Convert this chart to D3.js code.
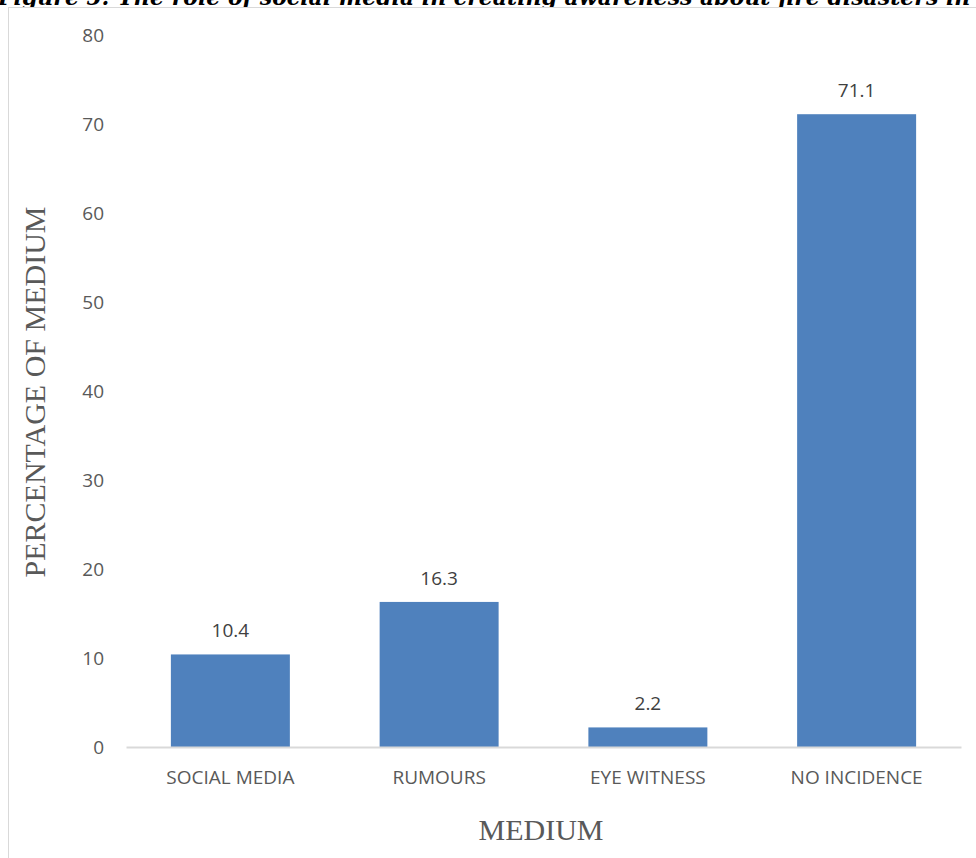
<!DOCTYPE html>
<html>
<head>
<meta charset="utf-8">
<script src="https://cdn.jsdelivr.net/npm/d3@7"></script>
<style>
  html, body { margin: 0; padding: 0; background: #fff; overflow: hidden; }
  svg { display: block; }
</style>
</head>
<body>
<script>
const categories = ["SOCIAL MEDIA", "RUMOURS", "EYE WITNESS", "NO INCIDENCE"];
const values = [10.4, 16.3, 2.2, 71.1];
const yTicks = [0, 10, 20, 30, 40, 50, 60, 70, 80];
const titleText = "Figure 5: The role of social media in creating awareness about fire disasters in";
const xAxisTitle = "MEDIUM";
const yAxisTitle = "PERCENTAGE OF MEDIUM";

const W = 976, H = 858;
const svg = d3.select("body").append("svg").attr("width", W).attr("height", H);

// clipped figure caption at the very top
svg.append("text")
  .attr("x", -2).attr("y", 5)
  .attr("font-family", "'DejaVu Serif', serif")
  .attr("font-weight", "bold").attr("font-style", "italic")
  .attr("font-size", 22).attr("fill", "#000")
  .text(titleText);

// chart frame
svg.append("rect")
  .attr("x", 8.5).attr("y", 7.5).attr("width", W + 10).attr("height", H + 10)
  .attr("fill", "#fff").attr("stroke", "#d9d9d9").attr("stroke-width", 1);

const x = d3.scaleBand().domain(categories).range([126, 961])
  .paddingInner(0.43).paddingOuter(0.215);
const y = d3.scaleLinear().domain([0, 80]).range([747, 35]);

// y axis (labels only)
const yAxis = d3.axisLeft(y).tickValues(yTicks).tickSize(0).tickPadding(0);
const gy = svg.append("g").attr("transform", "translate(104,0)").call(yAxis);
gy.select(".domain").remove();
gy.selectAll("text")
  .attr("font-family", "'Open Sans', sans-serif")
  .attr("font-size", 19).attr("fill", "#595959");

// bars
svg.append("g").selectAll("rect").data(values).join("rect")
  .attr("x", (d, i) => x(categories[i]))
  .attr("width", x.bandwidth())
  .attr("y", d => y(d))
  .attr("height", d => y(0) - y(d))
  .attr("fill", "#4f81bd");

// x axis
const xAxis = d3.axisBottom(x).tickSize(0).tickPadding(0);
const gx = svg.append("g").attr("transform", `translate(0,${y(0)})`).call(xAxis);
gx.select(".domain").attr("stroke", "#d9d9d9").attr("stroke-width", 2);
gx.selectAll("text")
  .attr("dy", "0")
  .attr("y", 37)
  .attr("font-family", "'Open Sans', sans-serif")
  .attr("font-size", 19).attr("fill", "#595959");

// data labels
svg.append("g").selectAll("text").data(values).join("text")
  .attr("x", (d, i) => x(categories[i]) + x.bandwidth() / 2)
  .attr("y", d => y(d) - 17)
  .attr("text-anchor", "middle")
  .attr("font-family", "'Open Sans', sans-serif")
  .attr("font-size", 19).attr("fill", "#404040")
  .text(d => d.toFixed(1));

// axis titles
svg.append("text")
  .attr("x", 541).attr("y", 840)
  .attr("text-anchor", "middle")
  .attr("font-family", "'Liberation Serif', serif")
  .attr("font-size", 30).attr("fill", "#595959")
  .text(xAxisTitle);

svg.append("text")
  .attr("transform", "translate(45,392) rotate(-90)")
  .attr("text-anchor", "middle")
  .attr("font-family", "'Liberation Serif', serif")
  .attr("font-size", 30).attr("fill", "#595959")
  .text(yAxisTitle);
</script>
</body>
</html>
